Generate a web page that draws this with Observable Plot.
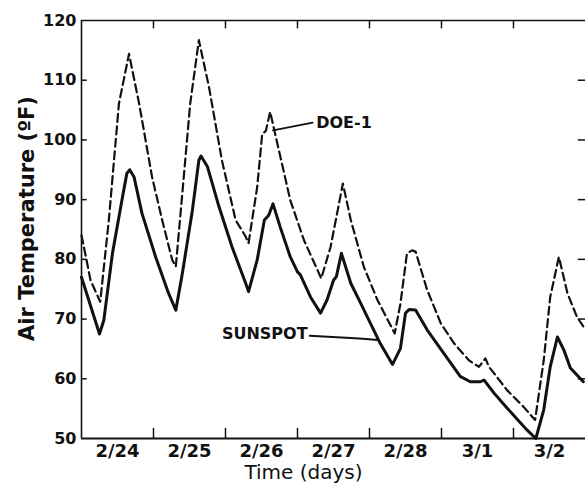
<!DOCTYPE html>
<html>
<head>
<meta charset="utf-8">
<script src="https://cdn.jsdelivr.net/npm/d3@7"></script>
<script src="https://cdn.jsdelivr.net/npm/@observablehq/plot@0.6"></script>
<style>
  html, body { margin: 0; padding: 0; background: #fff; }
  #chart { width: 585px; height: 490px; }
</style>
</head>
<body>
<div id="chart"></div>
<script>
// Days since 2/24 00:00 and air temperature (°F)
const sunspotDay  = [0.00,0.25,0.31,0.43,0.57,0.63,0.67,0.73,0.84,1.03,1.21,1.31,1.40,1.54,1.63,1.66,1.75,1.91,2.09,2.28,2.32,2.44,2.54,2.60,2.66,2.76,2.90,3.00,3.04,3.18,3.32,3.41,3.50,3.54,3.61,3.74,3.88,4.15,4.32,4.43,4.50,4.55,4.64,4.80,5.03,5.26,5.40,5.54,5.59,5.73,5.91,6.19,6.31,6.42,6.51,6.61,6.70,6.79,6.97];
const sunspotTemp = [77.0,67.5,69.8,81.0,90.5,94.4,95.0,93.8,87.7,80.4,74.3,71.5,77.6,88.2,96.6,97.3,95.5,88.8,82.1,76.0,74.6,79.9,86.6,87.4,89.3,85.4,80.4,77.9,77.4,73.7,71.0,73.2,76.5,77.1,81.0,76.0,72.6,65.9,62.4,65.1,71.0,71.6,71.5,68.2,64.3,60.4,59.5,59.5,59.8,57.6,55.1,51.4,50.0,54.8,62.0,67.0,64.8,61.8,59.5];

const doeDay  = [0.00,0.06,0.125,0.26,0.38,0.52,0.66,0.80,0.98,1.12,1.26,1.31,1.40,1.51,1.63,1.77,1.95,2.14,2.28,2.32,2.44,2.51,2.56,2.62,2.72,2.90,3.09,3.33,3.46,3.55,3.63,3.74,3.92,4.11,4.35,4.43,4.52,4.59,4.64,4.80,4.99,5.17,5.38,5.52,5.61,5.66,5.91,6.14,6.30,6.42,6.51,6.63,6.75,6.88,7.00];
const doeTemp = [84.0,80.5,76.5,72.9,86.6,106.1,114.4,106.1,93.8,86.6,79.9,78.8,91.0,106.1,116.7,108.9,96.6,86.6,83.8,82.7,92.1,101.0,101.5,104.7,99.4,89.9,83.2,76.8,82.1,87.7,92.7,86.6,78.8,73.2,67.6,72.6,81.0,81.5,81.3,74.9,69.3,66.0,63.1,62.0,63.4,62.0,58.1,55.3,53.1,63.1,73.7,80.4,74.3,70.4,68.2];

const dayLabels = ["2/24","2/25","2/26","2/27","2/28","3/1","3/2"];
const dayCenters = [0.5,1.5,2.5,3.5,4.5,5.5,6.5];
const dayBounds = [1,2,3,4,5,6];
const tempTicks = [50,60,70,80,90,100,110,120];
const innerTemps = [60,70,80,90,100,110];

// Annotations (data units)
const doeLabel = {name: "DOE-1", day: 3.26, temp: 102.9};
const sunLabel = {name: "SUNSPOT", day: 3.14, temp: 67.5};
const doeLeaderDay  = [2.66, 3.21];
const doeLeaderTemp = [101.6, 102.9];
const sunLeaderDay  = [3.17, 3.80, 4.11];
const sunLeaderTemp = [67.2, 66.8, 66.5];

const sunspot = sunspotDay.map((d,i) => ({day: d, temp: sunspotTemp[i]}));
const doe = doeDay.map((d,i) => ({day: d, temp: doeTemp[i]}));
const doeLeader = doeLeaderDay.map((d,i) => ({day: d, temp: doeLeaderTemp[i]}));
const sunLeader = sunLeaderDay.map((d,i) => ({day: d, temp: sunLeaderTemp[i]}));

const font = "DejaVu Sans, sans-serif";

const chart = Plot.plot({
  width: 585,
  height: 490,
  marginLeft: 81,
  marginRight: 0,
  marginTop: 20,
  marginBottom: 52,
  style: {fontFamily: font, background: "#fff", color: "#111"},
  x: {domain: [0, 7]},
  y: {domain: [50, 120]},
  marks: [
    // frame
    Plot.ruleY([120], {stroke: "#111", strokeWidth: 1.6}),
    Plot.ruleY([50], {stroke: "#111", strokeWidth: 2}),
    Plot.ruleX([0], {stroke: "#111", strokeWidth: 1.6}),
    // inward ticks
    Plot.ruleX(dayBounds, {x: d => d, y1: 50, y2: 51.7, stroke: "#111", strokeWidth: 1.5}),
    Plot.ruleX(dayBounds, {x: d => d, y1: 120, y2: 118.6, stroke: "#111", strokeWidth: 1.5}),
    Plot.ruleY(innerTemps, {y: d => d, x1: 0, x2: 0.08, stroke: "#111", strokeWidth: 1.5}),
    Plot.ruleY(innerTemps, {y: d => d, x1: 6.9, x2: 7, stroke: "#111", strokeWidth: 1.5}),
    // axes
    Plot.axisY(tempTicks, {
      tickSize: 0, tickPadding: 5, fontSize: 16, fontWeight: "bold",
      label: null, tickFormat: d => String(d)
    }),
    Plot.axisX(dayCenters, {
      tickSize: 0, tickPadding: 6, fontSize: 18, fontWeight: "bold",
      label: null, tickFormat: (d, i) => dayLabels[i]
    }),
    Plot.text(["Air Temperature (ºF)"], {
      frameAnchor: "left", textAnchor: "middle", rotate: -90, dx: -54, dy: -11,
      fontSize: 21, fontWeight: "bold", fill: "#111",
      letterSpacing: "1.1px"
    }),
    Plot.text(["Time (days)"], {
      frameAnchor: "bottom", dx: -30, dy: 40,
      fontSize: 20, fill: "#111"
    }),
    // series
    Plot.line(doe, {x: "day", y: "temp", stroke: "#111", strokeWidth: 2.2, strokeDasharray: "8,4.5"}),
    Plot.line(sunspot, {x: "day", y: "temp", stroke: "#111", strokeWidth: 3}),
    // annotations
    Plot.line(doeLeader, {x: "day", y: "temp", stroke: "#111", strokeWidth: 1.8}),
    Plot.line(sunLeader, {x: "day", y: "temp", stroke: "#111", strokeWidth: 2, curve: "natural"}),
    Plot.text([doeLabel], {
      x: "day", y: "temp", text: "name", textAnchor: "start",
      fontSize: 16, fontWeight: "bold", fill: "#111"
    }),
    Plot.text([sunLabel], {
      x: "day", y: "temp", text: "name", textAnchor: "end",
      fontSize: 16, fontWeight: "bold", fill: "#111"
    })
  ]
});
document.getElementById("chart").appendChild(chart);
</script>
</body>
</html>
